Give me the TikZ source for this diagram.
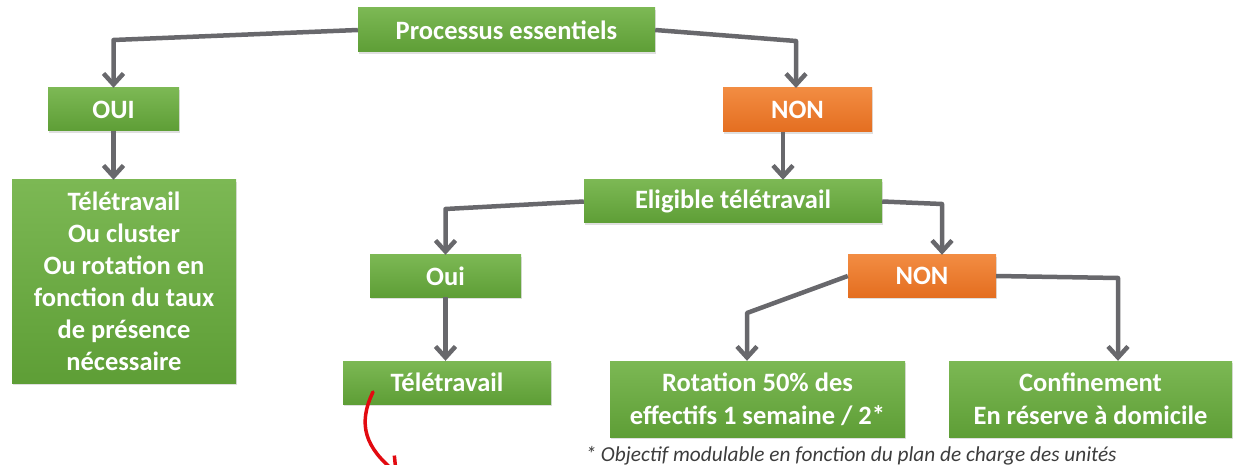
\documentclass[tikz,border=0pt]{standalone}
\usepackage{fontspec}
\setmainfont{Carlito}
\usetikzlibrary{arrows.meta}
\usetikzlibrary{shadows}

\definecolor{greentop}{RGB}{124,184,84}
\definecolor{greenbot}{RGB}{94,158,54}
\definecolor{orangetop}{RGB}{242,140,66}
\definecolor{orangebot}{RGB}{228,110,32}
\definecolor{linkgrey}{RGB}{104,104,108}
\definecolor{notegrey}{RGB}{60,60,60}
\definecolor{penred}{RGB}{226,10,16}

\begin{document}
\begin{tikzpicture}[x=1pt, y=-1pt, box/.style = {text=white, font=\fontsize{26.5}{32}\selectfont\bfseries, align=center, inner sep=0pt, drop shadow={shadow xshift=1pt, shadow yshift=-2pt, opacity=0.25}}, greenbox/.style = {box, top color=greentop, bottom color=greenbot}, orangebox/.style = {box, top color=orangetop, bottom color=orangebot}, link/.style = {draw=linkgrey, line width=4.5pt, line join=round, -{Straight Barb[length=11pt,width=20pt]}}]

    \useasboundingbox (0,0) rectangle (1240,465);

    \node at (506.5, 30) [greenbox, minimum width=297pt, minimum height=44pt] (proc) {Processus essentiels};

    \node at (113.5, 109.5) [greenbox, minimum width=131pt, minimum height=43pt] (oui_1) {OUI};
    \node at (124, 281.5) [greenbox, minimum width=224pt, minimum height=203pt] (tele_1) {Télétravail\\Ou cluster\\Ou rotation en\\fonction du taux\\de présence\\nécessaire};

    \node at (797.5, 110) [orangebox, minimum width=149pt, minimum height=44pt] (non_1) {NON};
    \node at (733, 201.5) [greenbox, minimum width=298pt, minimum height=43pt] (elig) {Eligible télétravail};

    \node at (445.5, 276) [greenbox, minimum width=151pt, minimum height=42pt] (oui_2) {Oui};
    \node at (447, 382.5) [greenbox, minimum width=208pt, minimum height=43pt] (tele_2) {Télétravail};

    \node at (922, 276) [orangebox, minimum width=148pt, minimum height=42pt] (non_2) {NON};
    \node at (757.5, 399) [greenbox, minimum width=295pt, minimum height=76pt, font=\fontsize{26.5}{33}\selectfont\bfseries] (rot) {Rotation 50\% des\\effectifs 1 semaine / 2*};
    \node at (1090.5, 399) [greenbox, minimum width=283pt, minimum height=76pt, font=\fontsize{26.5}{33}\selectfont\bfseries] (conf) {Confinement\\En réserve à domicile};

    \node[anchor=base west, font=\fontsize{21.3}{25}\selectfont\itshape, text=notegrey] at (582, 461) (note) {* Objectif modulable en fonction du plan de charge des unités};

    \draw[link] (proc.west) -- (oui_1.north |- 0,40) -- (oui_1.north);
    \draw[link] (proc.east) -- (796,41) -- (796,88);
    \draw[link] (oui_1.south) -- (oui_1.south |- tele_1.north);
    \draw[link] ([xshift=-14.5pt]non_1.south) -- ([xshift=-14.5pt]non_1.south |- elig.north);
    \draw[link] (elig.west) -- (oui_2.north |- 0,209) -- (oui_2.north);
    \draw[link] (elig.east) -- ([xshift=20pt]non_2.north |- 0,204) -- ([xshift=20pt]non_2.north);
    \draw[link] (oui_2.south) -- (oui_2.south |- tele_2.north);
    \draw[link] (non_2.west) -- ([xshift=-10.5pt]rot.north |- 0,313) -- ([xshift=-10.5pt]rot.north);
    \draw[link] (non_2.east) -- ([xshift=27.5pt]conf.north |- 0,278) -- ([xshift=27.5pt]conf.north);

    \coordinate (pen_a) at (373, 392);
    \coordinate (pen_b) at (398, 474);
    \draw[draw=penred, line width=3.5pt, line cap=round, -{Straight Barb[length=12pt,width=24pt]}] (pen_a) .. controls (357, 425) and (366, 448) .. (pen_b);
\end{tikzpicture}
\end{document}
